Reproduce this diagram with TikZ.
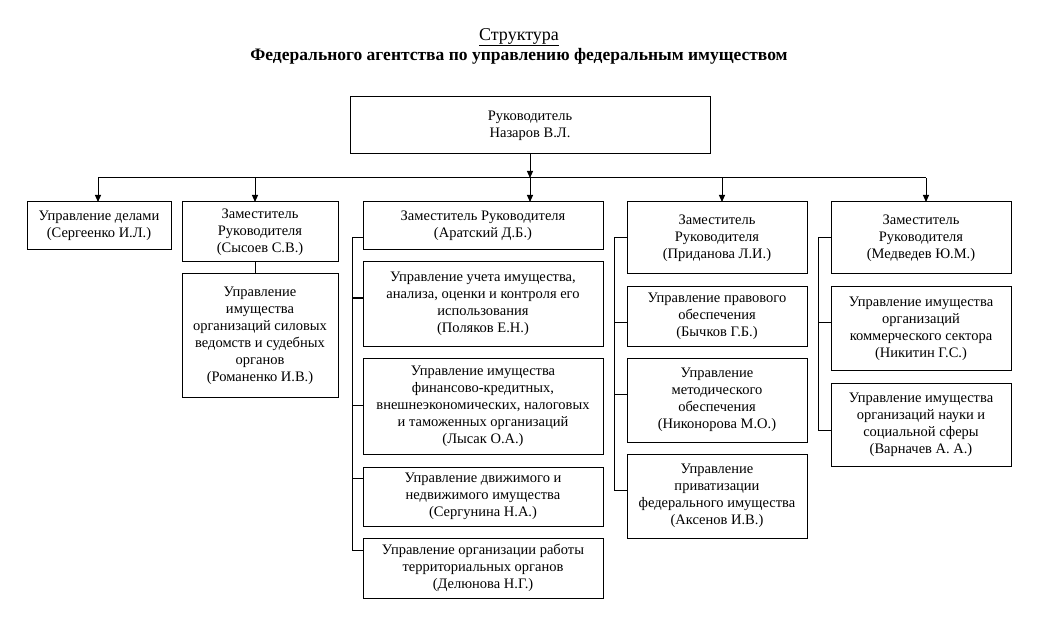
\documentclass[tikz,border=0pt]{standalone}
\usepackage{fontspec}
\setmainfont{Liberation Serif}
\usetikzlibrary{arrows.meta,calc}
\newcommand\orgbox[6]{%
  \node[orgbx, minimum width={(#4-#2)*1pt}, minimum height={(#5-#3)*1pt}]
    (#1) at ({(#2+#4)/2},{(#3+#5)/2}) {#6};}
\begin{document}
\begin{tikzpicture}[x=1pt,y=-1pt,
  orgbx/.style={draw, line width=1pt, inner sep=0pt, outer sep=0pt, align=center,
    font=\fontsize{14.5}{17}\selectfont},
  conn/.style={line width=1pt},
  arr/.style={line width=1pt, -{Triangle[length=7pt,width=6pt]}},
  ttl/.style={align=center, font=\fontsize{17.5}{20}\selectfont\bfseries},
  ttlu/.style={align=center, font=\fontsize{18}{20}\selectfont}]
\useasboundingbox (0,0) rectangle (1042,631);
% title
\node[ttlu] (t1) at (519,37) {\underline{Структура}};
\node[ttl] (t2) at (519,56) {Федерального агентства по управлению федеральным имуществом};
% boxes
\orgbox{top}{350}{97}{710}{154}{Руководитель\\Назаров В.Л.}
\orgbox{d1}{27}{202}{171}{250}{Управление делами\\(Сергеенко И.Л.)}
\orgbox{d2}{182}{202}{338}{262}{Заместитель\\Руководителя\\(Сысоев С.В.)}
\orgbox{r1}{182}{274}{338}{397}{Управление\\имущества\\организаций силовых\\ведомств и судебных\\органов\\(Романенко И.В.)}
\orgbox{d3}{363}{202}{603}{250}{Заместитель Руководителя\\(Аратский Д.Б.)}
\orgbox{m1}{363}{262}{603}{346}{Управление учета имущества,\\анализа, оценки и контроля его\\использования\\(Поляков Е.Н.)}
\orgbox{m2}{363}{358}{603}{454}{Управление имущества\\финансово-кредитных,\\внешнеэкономических, налоговых\\и таможенных организаций\\(Лысак О.А.)}
\orgbox{m3}{363}{467}{603}{526}{Управление движимого и\\недвижимого имущества\\(Сергунина Н.А.)}
\orgbox{m4}{363}{538}{603}{598}{Управление организации работы\\территориальных органов\\(Делюнова Н.Г.)}
\orgbox{d4}{627}{202}{807}{274}{Заместитель\\Руководителя\\(Приданова Л.И.)}
\orgbox{p1}{627}{287}{807}{346}{Управление правового\\обеспечения\\(Бычков Г.Б.)}
\orgbox{p2}{627}{358}{807}{442}{Управление\\методического\\обеспечения\\(Никонорова М.О.)}
\orgbox{p3}{627}{454}{807}{538}{Управление\\приватизации\\федерального имущества\\(Аксенов И.В.)}
\orgbox{d5}{831}{202}{1011}{274}{Заместитель\\Руководителя\\(Медведев Ю.М.)}
\orgbox{q1}{831}{287}{1011}{370}{Управление имущества\\организаций\\коммерческого сектора\\(Никитин Г.С.)}
\orgbox{q2}{831}{383}{1011}{466}{Управление имущества\\организаций науки и\\социальной сферы\\(Варначев А. А.)}
% main distribution bar
\coordinate (bL) at (98,178);
\coordinate (bR) at (926,178);
\coordinate (b1) at (98,178);
\coordinate (b2) at (255,178);
\coordinate (b3) at (530,178);
\coordinate (b4) at (722,178);
\coordinate (b5) at (926,178);
\draw[arr] (top.south -| b3) -- (b3);
\draw[conn] (bL) -- (bR);
\draw[arr] (b1) -- (b1 |- d1.north);
\draw[arr] (b2) -- (b2 |- d2.north);
\draw[arr] (b3) -- (b3 |- d3.north);
\draw[arr] (b4) -- (b4 |- d4.north);
\draw[arr] (b5) -- (b5 |- d5.north);
% Sysoev
\draw[conn] (d2.south -| b2) -- (r1.north -| b2);
% Aratsky bracket
\coordinate (mA) at (352,238);
\coordinate (mB) at (352,550);
\draw[conn] (d3.west |- mA) -- (mA) -- (mB) -- (m4.west |- mB);
\draw[conn] (352,298) -- (m1.west |- 352,298);
\draw[conn] (352,405) -- (m2.west |- 352,405);
\draw[conn] (352,478) -- (m3.west |- 352,478);
% Pridanova bracket
\coordinate (pA) at (614,238);
\coordinate (pB) at (614,490);
\draw[conn] (d4.west |- pA) -- (pA) -- (pB) -- (p3.west |- pB);
\draw[conn] (614,322) -- (p1.west |- 614,322);
\draw[conn] (614,394) -- (p2.west |- 614,394);
% Medvedev bracket
\coordinate (qA) at (818,238);
\coordinate (qB) at (818,430);
\draw[conn] (d5.west |- qA) -- (qA) -- (qB) -- (q2.west |- qB);
\draw[conn] (818,322) -- (q1.west |- 818,322);
\end{tikzpicture}
\end{document}
